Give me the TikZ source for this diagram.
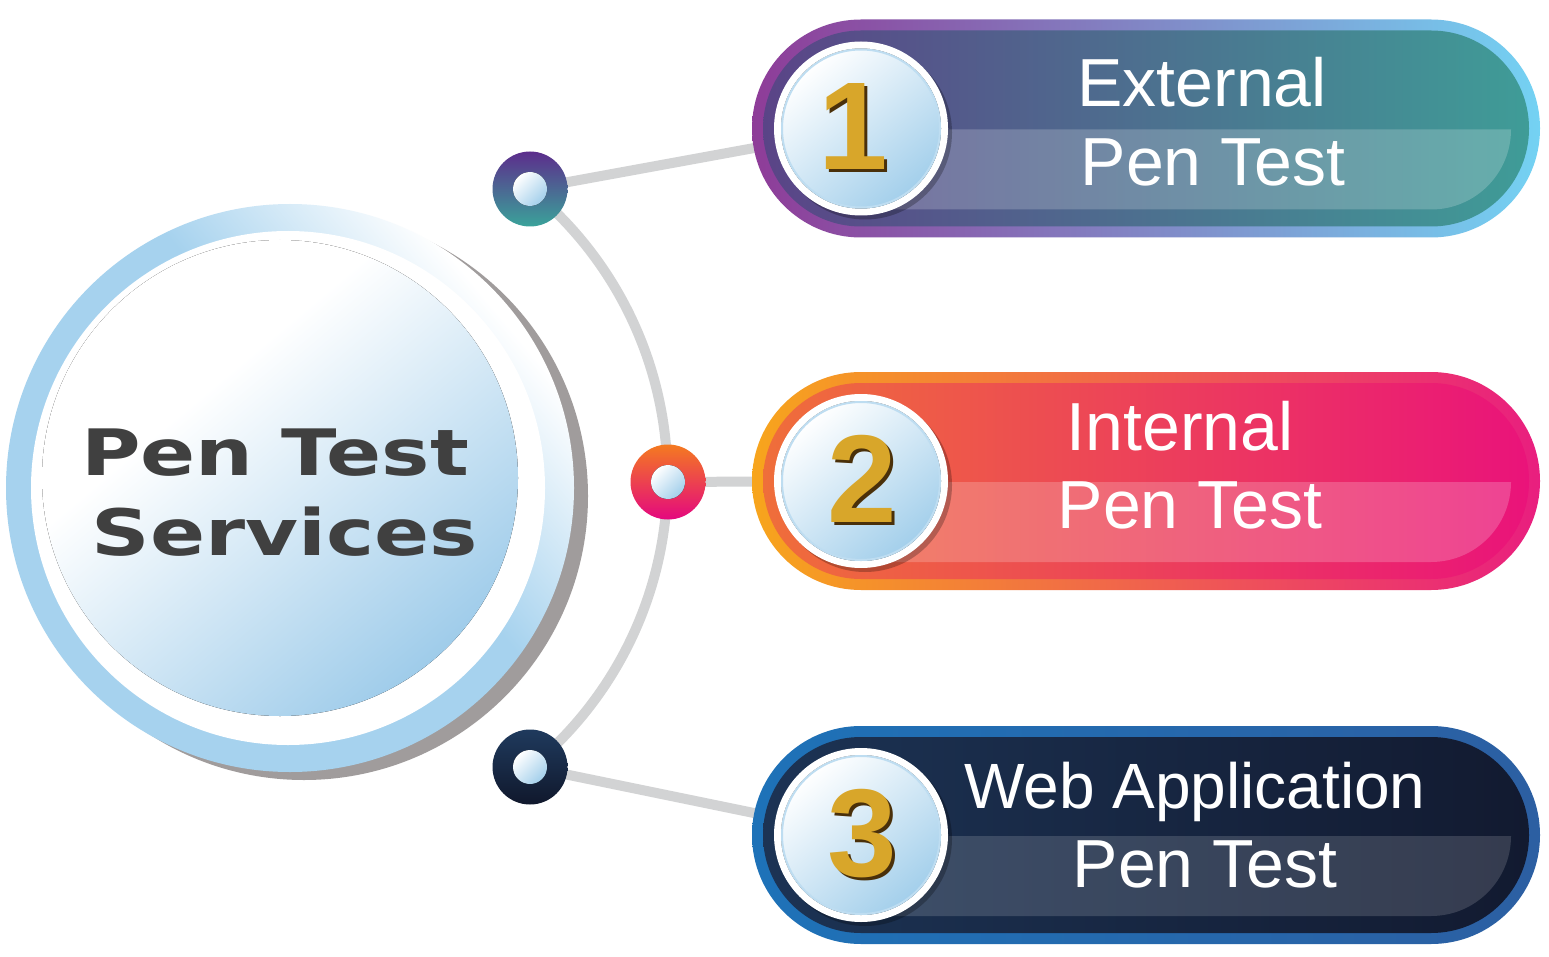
\documentclass[tikz,border=0pt]{standalone}
\usepackage{fontspec}
\newfontfamily\labfont{Liberation Sans}
\newfontfamily\hubfont{DejaVu Sans}
\usetikzlibrary{backgrounds}
\definecolor{conngray}{HTML}{D2D3D4}
\definecolor{ringblue}{HTML}{A6D2EE}
\definecolor{discblue}{HTML}{9FCCEA}
\definecolor{hubshadow}{HTML}{A09C9C}
\definecolor{hubtextc}{HTML}{404040}
\definecolor{badgeblue}{HTML}{A3CFEB}
\definecolor{goldc}{HTML}{D8A62A}
\definecolor{goldsh}{HTML}{4A300A}
\definecolor{pAbL}{HTML}{8E3C98}\definecolor{pAbR}{HTML}{74D2F3}
\definecolor{pAfL}{HTML}{5A4487}\definecolor{pAfR}{HTML}{3F9C97}
\definecolor{pBbL}{HTML}{F7A51C}\definecolor{pBbR}{HTML}{E91E7F}
\definecolor{pBfL}{HTML}{EF6E3A}\definecolor{pBfR}{HTML}{EA137A}
\definecolor{pCbL}{HTML}{1E72B8}\definecolor{pCbR}{HTML}{2C5FA2}
\definecolor{pCfL}{HTML}{1C3354}\definecolor{pCfR}{HTML}{121A30}
\definecolor{dAa}{HTML}{5C2D8C}\definecolor{dAb}{HTML}{3AA39A}
\definecolor{dBa}{HTML}{F47A20}\definecolor{dBb}{HTML}{E4087F}
\definecolor{dCa}{HTML}{1F3A5D}\definecolor{dCb}{HTML}{10182C}
\pgfdeclareverticalshading{ringsh}{100bp}{color(0bp)=(ringblue); color(56bp)=(ringblue); color(74bp)=(white); color(100bp)=(white)}
\pgfdeclareverticalshading{discsh}{100bp}{color(0bp)=(discblue); color(25bp)=(discblue); color(62bp)=(white); color(100bp)=(white)}
\tikzset{
  conn/.style={draw=conngray, line width=10pt},
  hubring/.style={circle, minimum size=568pt, inner sep=0pt, shading=ringsh, shading angle=-50},
  hubdisc/.style={shading=discsh, shading angle=40},
  hubtext/.style={text=hubtextc, inner sep=0pt, font=\hubfont\bfseries\fontsize{64}{70}\selectfont},
  pillout/.style={rectangle, rounded corners=108.9pt, minimum width=788pt, minimum height=218pt, inner sep=0pt},
  pillin/.style={rectangle, rounded corners=97.9pt, minimum width=766pt, minimum height=196pt, inner sep=0pt},
  badgering/.style={circle, fill=white, minimum size=174pt, inner sep=0pt},
  badgedisc/.style={top color=white, bottom color=badgeblue, shading angle=40},
  digit/.style={inner sep=0pt, font=\labfont\bfseries\fontsize{125}{130}\selectfont},
  lbl/.style={text=white, inner sep=0pt, font=\labfont\fontsize{68}{72}\selectfont},
  dotnode/.style={circle, minimum size=75pt, inner sep=0pt, shading angle=45},
  dotcore/.style={top color=white, bottom color=badgeblue, shading angle=45}
}
\newcommand\PillItem[9]{%
  \begin{scope}[shift={(0,#2)}]
    \node[pillout, left color=#3, right color=#4] (p#1) at (1146,0) {};
    \node[pillin, left color=#5, right color=#6] (q#1) at (1146,0) {};
    \fill[white, opacity=#7] (880,1) -- (1511,1) arc[start angle=0, end angle=90, radius=80] -- (880,81) -- cycle;
    \fill[black, opacity=0.25] (865,4) circle[radius=87];
    \node[badgering] (b#1) at (861,0) {};
    \fill[badgedisc] (861,0) circle[radius=80];
    \draw[badgeblue!70, line width=2pt] (861,0) circle[radius=79];
    \node[digit, text=goldsh, anchor=base] (s#1) at (#9+3,44) {#8};
    \node[digit, text=goldc, anchor=base] (n#1) at (#9,41) {#8};
  \end{scope}}
\begin{document}
\begin{tikzpicture}[x=1pt,y=-1pt]
\useasboundingbox (0,0) rectangle (1549,957);
\begin{pgfonlayer}{background}
  \fill[white] (0,0) rectangle (1549,957);
\end{pgfonlayer}
% hub
\fill[hubshadow] (304,496) circle[radius=284];
\node[hubring] (hub) at (290,488) {};
\fill[white] (288,488) circle[radius=257];
\fill[hubdisc] (280,478) circle[radius=238];
\node[hubtext, anchor=base] (h1) at (275,475) {\scalebox{1.27}[1]{Pen Test}};
\node[hubtext, anchor=base] (h2) at (285,555) {\scalebox{1.27}[1]{Services}};
% dots
\node[dotnode, top color=dAa, bottom color=dAb] (d1) at (530,189) {};
\node[dotnode, top color=dBa, bottom color=dBb] (d2) at (668,482) {};
\node[dotnode, top color=dCa, bottom color=dCb] (d3) at (530,767) {};
\fill[dotcore] (d1) circle[radius=17];
\fill[dotcore] (d2) circle[radius=17];
\fill[dotcore] (d3) circle[radius=17];
% pills
\PillItem{1}{128.5}{pAbL}{pAbR}{pAfL}{pAfR}{0.2}{1}{853}
\PillItem{2}{481}{pBbL}{pBbR}{pBfL}{pBfR}{0.2}{2}{862}
\PillItem{3}{835}{pCbL}{pCbR}{pCfL}{pCfR}{0.15}{3}{862}
% labels
\node[lbl, anchor=base] (t1a) at (1202,107) {External};
\node[lbl, anchor=base] (t1b) at (1213,186) {Pen Test};
\node[lbl, anchor=base] (t2a) at (1180,450) {Internal};
\node[lbl, anchor=base] (t2b) at (1190,528) {Pen Test};
\node[lbl, anchor=base, font=\labfont\fontsize{64}{70}\selectfont] (t3a) at (1195,808) {Web Application};
\node[lbl, anchor=base] (t3b) at (1205,887) {Pen Test};
% connectors
\begin{pgfonlayer}{background}
  \draw[conn] (d1.center) -- (b1.center);
  \draw[conn] (d2.center) -- (b2.center);
  \draw[conn] (d3.center) -- (b3.center);
  \draw[conn] (d1.center) arc[start angle=-50.8, end angle=50.8, radius=373.5];
\end{pgfonlayer}
\end{tikzpicture}
\end{document}
